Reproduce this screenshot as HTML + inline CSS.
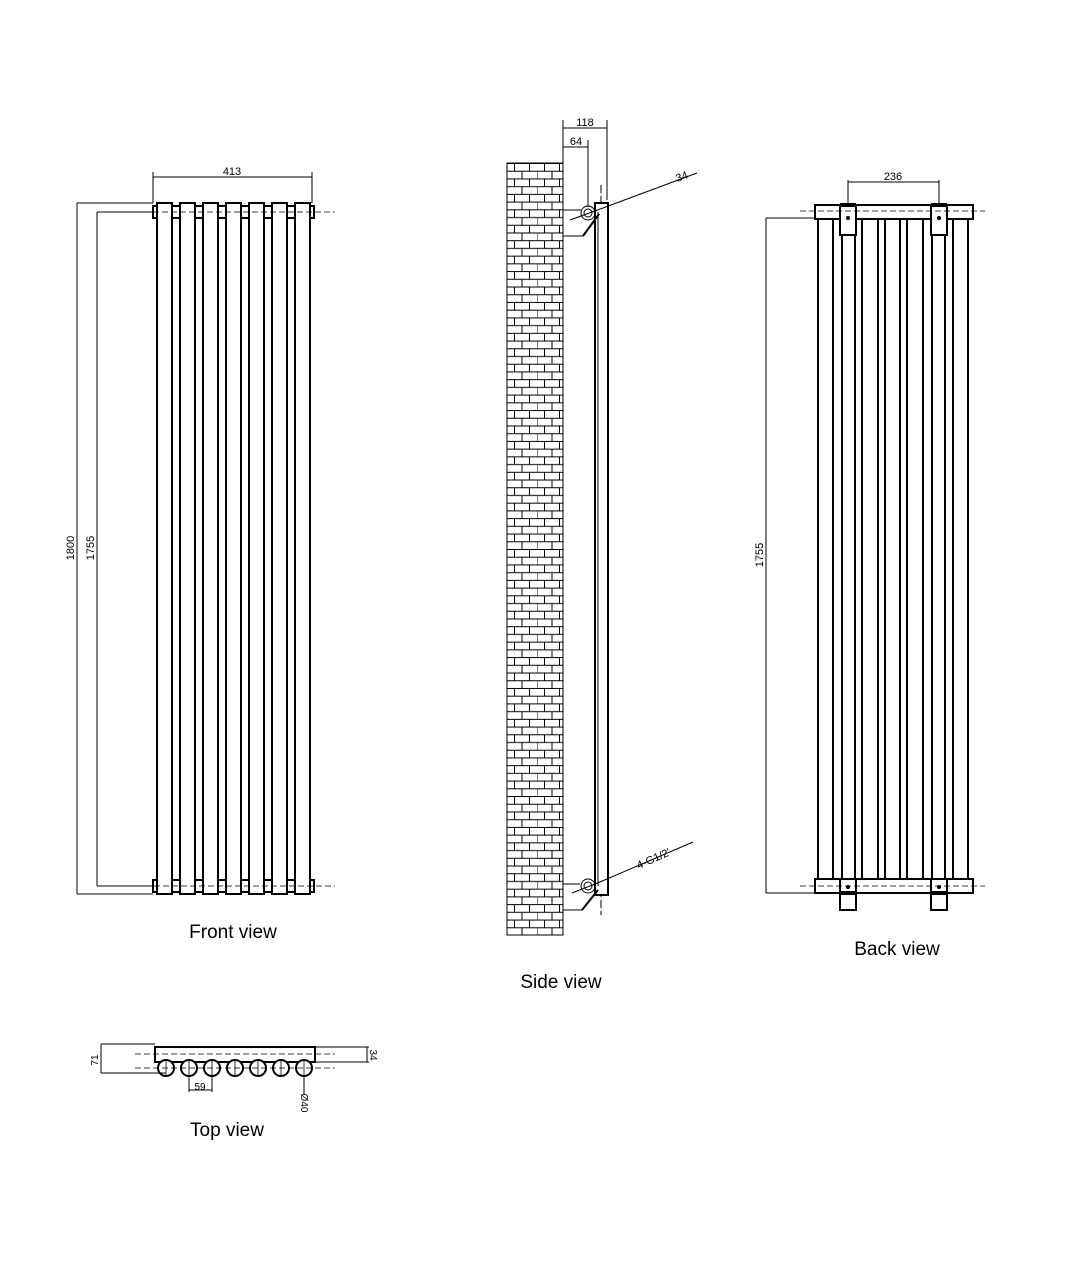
<!DOCTYPE html>
<html><head><meta charset="utf-8"><style>
html,body{margin:0;padding:0;background:#fff;}
svg{display:block;}
text{font-family:"Liberation Sans",sans-serif;fill:#000;}
</style></head><body>
<svg width="1090" height="1280" viewBox="0 0 1090 1280" xmlns="http://www.w3.org/2000/svg">
<defs>
<pattern id="brick" patternUnits="userSpaceOnUse" x="507" y="163" width="30" height="15.44">
<rect width="30" height="15.44" fill="#fff"/>
<path d="M0 0.5H30M0 8.2H30M7.5 0V7.7M22.5 0V7.7M0 7.7V15.44M15 7.7V15.44" stroke="#000" stroke-width="1" fill="none"/>
</pattern>
</defs>
<g stroke="#000" fill="none" stroke-width="1">
<!-- FRONT VIEW -->
<g stroke-width="2" fill="#fff">
<rect x="157" y="203" width="15" height="691"/>
<rect x="180" y="203" width="15" height="691"/>
<rect x="203" y="203" width="15" height="691"/>
<rect x="226" y="203" width="15" height="691"/>
<rect x="249" y="203" width="15" height="691"/>
<rect x="272" y="203" width="15" height="691"/>
<rect x="295" y="203" width="15" height="691"/>
<rect x="153" y="206" width="4" height="12"/><rect x="310" y="206" width="4" height="12"/>
<rect x="172" y="206" width="8" height="12"/><rect x="195" y="206" width="8" height="12"/><rect x="218" y="206" width="8" height="12"/><rect x="241" y="206" width="8" height="12"/><rect x="264" y="206" width="8" height="12"/><rect x="287" y="206" width="8" height="12"/>
<rect x="153" y="880" width="4" height="12"/><rect x="310" y="880" width="4" height="12"/>
<rect x="172" y="880" width="8" height="12"/><rect x="195" y="880" width="8" height="12"/><rect x="218" y="880" width="8" height="12"/><rect x="241" y="880" width="8" height="12"/><rect x="264" y="880" width="8" height="12"/><rect x="287" y="880" width="8" height="12"/>
</g>
<path d="M153 212H335M100 886H335" stroke-dasharray="6 3" stroke-width="0.8"/>
<path d="M153 203V172M312 203V172M153 177H312M77 203H153M77 894H153M77 203V894M97 212H153M97 886H153M97 212V886"/>
<!-- SIDE VIEW -->
<rect x="507" y="163" width="56" height="772" fill="url(#brick)" stroke="#000"/>
<path d="M563 163V120M607 200V120M588 207V140M563 128H607M563 147H588"/>
<path d="M601 185V915" stroke-dasharray="8 3"/>
<rect x="595" y="203" width="13" height="692" stroke-width="2" fill="#fff"/>
<path d="M598 212V886"/>
<circle cx="588" cy="213" r="7"/><circle cx="588" cy="213" r="4"/>
<path d="M570 220L603 208L697 173M563 210H581M563 236H583L599 214" />
<path d="M583 236L599 214" stroke-width="2"/>
<circle cx="588" cy="886" r="7"/><circle cx="588" cy="886" r="4"/>
<path d="M572 893L600 882L693 842M563 884H580M563 910H582L598 890"/>
<path d="M582 910L598 890" stroke-width="2"/>
<!-- BACK VIEW -->
<g stroke-width="2" fill="#fff">
<rect x="818" y="212" width="15" height="670"/>
<rect x="842" y="212" width="13" height="670"/>
<rect x="862" y="212" width="16" height="670"/>
<rect x="885" y="212" width="15" height="670"/>
<rect x="907" y="212" width="16" height="670"/>
<rect x="932" y="212" width="13" height="670"/>
<rect x="953" y="212" width="15" height="670"/>
<rect x="815" y="205" width="158" height="14"/>
<rect x="815" y="879" width="158" height="14"/>
<rect x="840" y="205" width="16" height="30"/>
<rect x="931" y="205" width="16" height="30"/>
<rect x="840" y="879" width="16" height="31"/>
<rect x="931" y="879" width="16" height="31"/>
</g>
<path d="M840 205H856M931 205H947M840 893H856M931 893H947" stroke-width="4"/>
<circle cx="848" cy="218" r="1.5" fill="#000"/><circle cx="939" cy="218" r="1.5" fill="#000"/>
<circle cx="848" cy="887" r="1.5" fill="#000"/><circle cx="939" cy="887" r="1.5" fill="#000"/>
<path d="M800 211H985M800 886H985" stroke-dasharray="6 3" stroke-width="0.8"/>
<path d="M848 205V180M939 205V180M848 182H939M766 218H815M766 893H815M766 218V893"/>
<!-- TOP VIEW -->
<rect x="155" y="1047" width="160" height="15" stroke-width="2" fill="#fff"/>
<g stroke-width="2" fill="#fff">
<circle cx="166" cy="1068" r="8"/><circle cx="189" cy="1068" r="8"/><circle cx="212" cy="1068" r="8"/><circle cx="235" cy="1068" r="8"/><circle cx="258" cy="1068" r="8"/><circle cx="281" cy="1068" r="8"/><circle cx="304" cy="1068" r="8"/>
</g>
<path d="M135 1054H335M135 1068H335" stroke-dasharray="6 3" stroke-width="0.8"/>
<path d="M166 1060V1076M189 1060V1076M212 1060V1076M235 1060V1076M258 1060V1076M281 1060V1076M304 1060V1076" stroke-width="0.8"/>
<path d="M101 1044H155M101 1073H166M101 1044V1073M315 1047H369M315 1062H369M367 1047V1062M189 1076V1092M212 1076V1092M189 1090H212M304 1076V1095"/>
</g>
<g font-size="11">
<text x="232" y="175" text-anchor="middle">413</text>
<text transform="translate(74 548) rotate(-90)" text-anchor="middle">1800</text>
<text transform="translate(94 548) rotate(-90)" text-anchor="middle">1755</text>
<text x="585" y="126" text-anchor="middle">118</text>
<text x="576" y="145" text-anchor="middle">64</text>
<text x="683" y="180" text-anchor="middle" transform="rotate(-20 683 180)">34</text>
<text x="655" y="862" text-anchor="middle" transform="rotate(-24 655 862)">4-G1/2'</text>
<text x="893" y="180" text-anchor="middle">236</text>
<text transform="translate(763 555) rotate(-90)" text-anchor="middle">1755</text>
<text transform="translate(98 1060) rotate(-90)" text-anchor="middle" font-size="10">71</text>
<text transform="translate(370 1055) rotate(90)" text-anchor="middle" font-size="10">34</text>
<text x="200" y="1090" text-anchor="middle" font-size="10">59</text>
<text transform="translate(301 1103) rotate(90)" text-anchor="middle" font-size="10">Ø40</text>
</g>
<g font-size="19">
<text x="233" y="938" text-anchor="middle">Front view</text>
<text x="561" y="988" text-anchor="middle">Side view</text>
<text x="897" y="955" text-anchor="middle">Back view</text>
<text x="227" y="1136" text-anchor="middle">Top view</text>
</g>
</svg>
</body></html>
